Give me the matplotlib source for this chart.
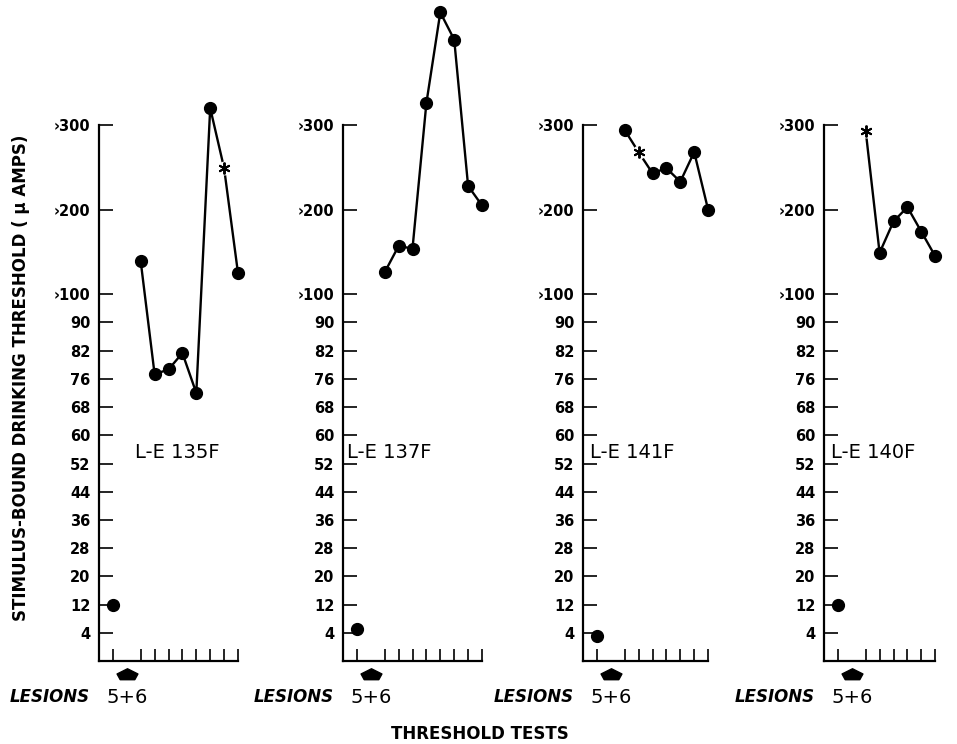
import numpy as np
import matplotlib
matplotlib.use("Agg")
import matplotlib.pyplot as plt
from matplotlib.path import Path
from matplotlib.transforms import blended_transform_factory

plt.rcParams['font.family'] = ['DejaVu Sans']

# ---- data ----
panel_names = ["L-E 135F", "L-E 137F", "L-E 141F", "L-E 140F"]
pre_lesion = [12, 5, 3, 12]
post_135F = [139, 77, 78, 81.5, 72, 320, 249, 125]
post_137F = [126, 157, 154, 326, 433, 401, 228, 205]
post_141F = [294, 268, 243, 249, 233, 268, 200]
post_140F = [293, 149, 186, 203, 174, 145]
post_series = [post_135F, post_137F, post_141F, post_140F]
star_index = [6, None, 1, 0]          # test marked with an asterisk
n_tests = [9, 9, 8, 7]                # last test slot on x axis

ytick_values = [4, 12, 20, 28, 36, 44, 52, 60, 68, 76, 82, 90, 100, 200, 300]
ytick_labels = ["4", "12", "20", "28", "36", "44", "52", "60", "68", "76",
                "82", "90", "\u203a100", "\u203a200", "\u203a300"]

# piecewise scale: equal spacing for each tick, 3 steps for each 100 above 100
_vals = np.array([-100, -4] + ytick_values + [400, 1000], dtype=float)
_pos = np.array([-13, -1] + list(range(12)) + [12, 15, 18, 21, 39], dtype=float)

def fwd(v):
    return np.interp(v, _vals, _pos)

def inv(p):
    return np.interp(p, _pos, _vals)

W, H = 957, 744
fig = plt.figure(figsize=(W / 100, H / 100), dpi=100)

axis_left_px = [99, 343, 583, 824]
unit_px = 13.9
bottom_px, top_px = 661, 125
text_x = [1.6, -0.7, -0.5, -0.5]

arrow_path = Path([(-0.7, -0.5), (0.7, -0.5), (1.0, 0.05), (0.0, 0.55),
                   (-1.0, 0.05), (-0.7, -0.5)],
                  [Path.MOVETO, Path.LINETO, Path.LINETO, Path.LINETO,
                   Path.LINETO, Path.CLOSEPOLY])

for i in range(4):
    n = n_tests[i]
    left = axis_left_px[i] / W
    width = (n + 1) * unit_px / W
    ax = fig.add_axes([left, 1 - bottom_px / H, width, (bottom_px - top_px) / H])
    ax.set_yscale('function', functions=(fwd, inv))
    ax.set_ylim(-4, 300)
    ax.set_xlim(-1, n)
    for s in ['top', 'right']:
        ax.spines[s].set_visible(False)
    for s in ['left', 'bottom']:
        ax.spines[s].set_linewidth(1.6)
    ax.set_yticks(ytick_values)
    ax.set_yticklabels(ytick_labels, fontsize=10.5, fontweight='bold')
    ax.yaxis.set_minor_locator(matplotlib.ticker.NullLocator())
    ax.set_xticks([0] + list(range(2, n + 1)))
    ax.set_xticklabels([])
    ax.tick_params(axis='y', direction='in', length=10, width=1.2, pad=6)
    ax.tick_params(axis='x', direction='in', length=8.5, width=1.2)
    ax.patch.set_visible(False)

    # pre-lesion test
    ax.plot([0], [pre_lesion[i]], 'o', color='black', ms=8.5, clip_on=False, zorder=4)
    # post-lesion tests
    post = post_series[i]
    xs = np.arange(2, 2 + len(post))
    ax.plot(xs, post, '-', color='black', lw=1.7, clip_on=False, zorder=3)
    mask = np.ones(len(post), bool)
    if star_index[i] is not None:
        mask[star_index[i]] = False
        si = star_index[i]
        ax.plot([xs[si]], [post[si]], 'o', color='white', ms=9, clip_on=False, zorder=4)
        ax.plot([xs[si]], [post[si]], marker=(6, 2, 0), color='black', ms=8.5,
                mew=1.4, ls='none', clip_on=False, zorder=5)
    ax.plot(xs[mask], np.array(post)[mask], 'o', color='black', ms=8.5,
            clip_on=False, zorder=4)

    ax.text(text_x[i], 55, panel_names[i], fontsize=14, ha='left', va='center')

    # lesion arrow + labels
    tr = blended_transform_factory(ax.transData, ax.transAxes)
    ax.plot([1], [-0.025], marker=arrow_path, color='black', ms=15,
            transform=tr, clip_on=False)
    ax.annotate("5+6", xy=(1, 0), xycoords=tr, xytext=(0, -26),
                textcoords='offset points', ha='center', va='center', fontsize=14)
    ax.annotate("LESIONS", xy=(0, 0), xycoords='axes fraction', xytext=(-6.5, -26),
                textcoords='offset points', ha='right', va='center', fontsize=12,
                fontweight='bold', fontstyle='italic')

fig.text(480 / W, 1 - 734 / H, "THRESHOLD TESTS", fontsize=12, fontweight='bold',
         ha='center', va='center')
fig.text(21 / W, 1 - 378 / H, "STIMULUS-BOUND DRINKING THRESHOLD ( \u03bc AMPS)",
         fontsize=12, fontweight='bold', rotation=90, ha='center', va='center')

fig.savefig("out.png", dpi=100)
